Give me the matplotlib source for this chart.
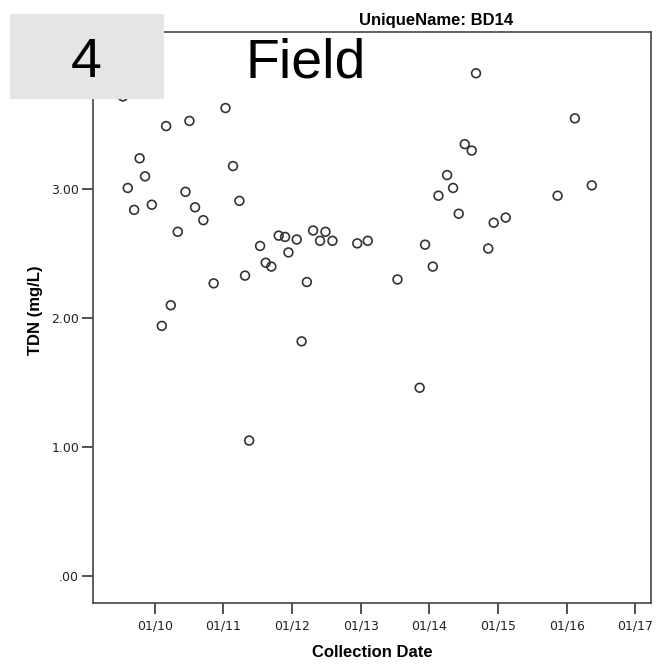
import numpy as np
import pandas as pd
import matplotlib
matplotlib.use('Agg')
import matplotlib.pyplot as plt
import matplotlib.dates as mdates
from matplotlib.patches import Rectangle

# collection dates and TDN values
dates = ['2009-07-15', '2011-01-12', '2010-03-02', '2010-07-04', '2009-10-12',
         '2011-02-21', '2009-11-10', '2009-08-10', '2010-06-13', '2009-09-13',
         '2009-12-16', '2010-08-03', '2011-03-27', '2010-09-16', '2010-05-03',
         '2012-04-22', '2012-06-27', '2011-10-22', '2011-11-25', '2012-01-26',
         '2012-05-29', '2012-08-03', '2012-12-13', '2013-02-07', '2011-07-15',
         '2011-12-13', '2011-08-14', '2011-09-13', '2011-04-26', '2010-11-10',
         '2012-03-20', '2013-07-15', '2010-03-27', '2010-02-07', '2012-02-21',
         '2011-05-18', '2013-11-10', '2014-09-06', '2016-02-14', '2014-07-08',
         '2014-08-14', '2014-04-05', '2014-05-07', '2014-02-18', '2015-11-14',
         '2016-05-14', '2014-06-06', '2015-02-11', '2014-12-09', '2013-12-09',
         '2014-11-10', '2014-01-19']
tdn = [3.72, 3.63, 3.49, 3.53, 3.24,
       3.18, 3.10, 3.01, 2.98, 2.84,
       2.88, 2.86, 2.91, 2.76, 2.67,
       2.68, 2.67, 2.64, 2.63, 2.61,
       2.60, 2.60, 2.58, 2.60, 2.56,
       2.51, 2.43, 2.40, 2.33, 2.27,
       2.28, 2.30, 2.10, 1.94, 1.82,
       1.05, 1.46, 3.90, 3.55, 3.35,
       3.30, 3.11, 3.01, 2.95, 2.95,
       3.03, 2.81, 2.78, 2.74, 2.57,
       2.54, 2.40]
y_ticks = [0, 1, 2, 3]
y_ticklabels = ['.00', '1.00', '2.00', '3.00']
x_years = [2010, 2011, 2012, 2013, 2014, 2015, 2016, 2017]

d = pd.to_datetime(dates)

W, H = 656, 665
fig = plt.figure(figsize=(W/100, H/100), dpi=100)
# axes box in pixels: left 93, right 651, top 32, bottom 603
ax = fig.add_axes([93/W, (H-603)/H, 558/W, 571/H])

ax.scatter(d, tdn, s=40, facecolors='none', edgecolors='#333333', linewidths=1.2, zorder=3)

ax.set_xlim(pd.Timestamp('2009-02-06'), pd.Timestamp('2017-03-25'))
ax.set_ylim(-0.21, 4.22)
ax.set_yticks(y_ticks)
ax.set_yticklabels(y_ticklabels)
ax.set_xticks([pd.Timestamp('%d-01-01' % yy) for yy in x_years])
ax.xaxis.set_major_formatter(mdates.DateFormatter('%m/%y'))

for s in ax.spines.values():
    s.set_color('#444444')
    s.set_linewidth(1.2)
ax.tick_params(axis='both', length=8, width=1.3, color='#444444',
               labelsize=9, labelcolor='#222222', pad=2)
ax.tick_params(axis='x', pad=4)
for lab in ax.get_xticklabels() + ax.get_yticklabels():
    lab.set_family('DejaVu Sans')

ax.set_xlabel('Collection Date', fontsize=12, fontweight='bold', family='Liberation Sans')
ax.set_ylabel('TDN (mg/L)', fontsize=12, fontweight='bold', family='Liberation Sans')
ax.xaxis.set_label_coords(0.5, -(645-603)/571)
ax.yaxis.set_label_coords((43-93)/558, (603-310)/571)

fig.text(436/W, 1 - 21/H, 'UniqueName: BD14', ha='center', va='center',
         fontsize=12, fontweight='bold', family='Liberation Sans')

# grey label box with the panel number
fig.patches.append(Rectangle((10/W, 1 - 99/H), 154/W, 85/H,
                             transform=fig.transFigure, facecolor='#e5e5e5',
                             edgecolor='none', zorder=5))
fig.text(86/W, 1 - 77/H, '4', ha='center', va='baseline', fontsize=40,
         family='Liberation Sans', zorder=6)
fig.text(306/W, 1 - 78/H, 'Field', ha='center', va='baseline', fontsize=40,
         family='Liberation Sans', zorder=6)

fig.savefig('out.png', dpi=100)
